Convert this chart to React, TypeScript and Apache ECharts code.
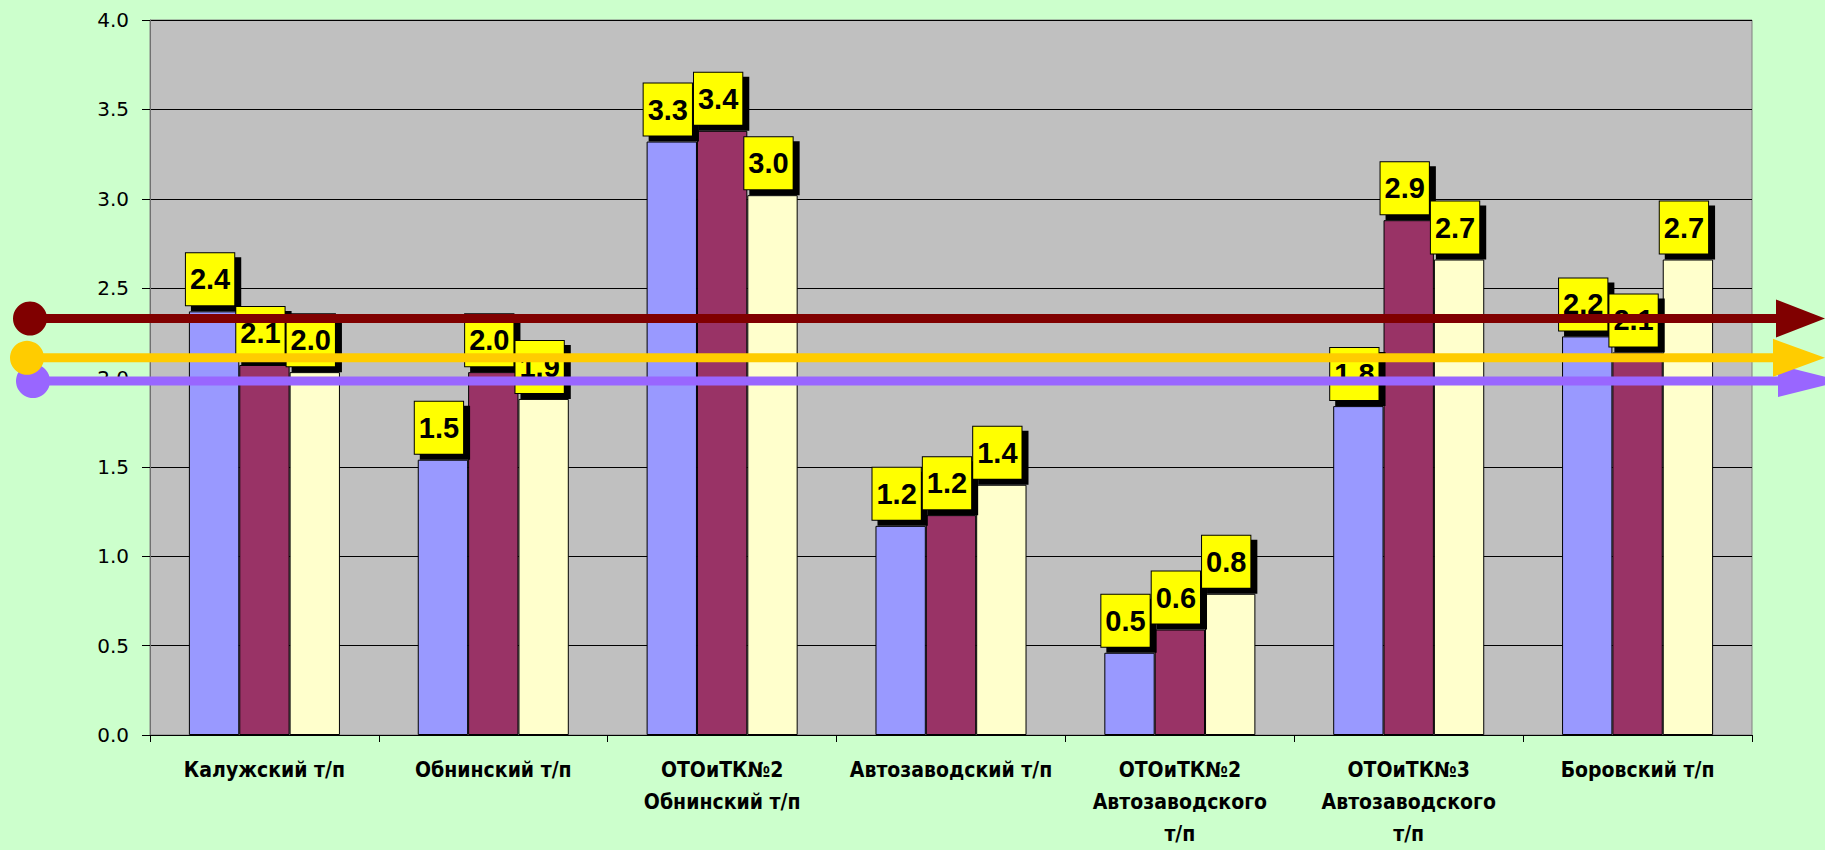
import React, { useEffect, useRef } from 'react';
import * as echarts from 'echarts';

const categories = [
  'Калужский т/п',
  'Обнинский т/п',
  'ОТОиТК№2\nОбнинский т/п',
  'Автозаводский т/п',
  'ОТОиТК№2\nАвтозаводского\nт/п',
  'ОТОиТК№3\nАвтозаводского\nт/п',
  'Боровский т/п',
];

const seriesA = [2.37, 1.54, 3.32, 1.17, 0.46, 1.84, 2.23];
const seriesB = [2.07, 2.03, 3.38, 1.23, 0.59, 2.88, 2.14];
const seriesC = [2.03, 1.88, 3.02, 1.4, 0.79, 2.66, 2.66];
const seriesList = [seriesA, seriesB, seriesC];
const barColors = ['#9999FF', '#993366', '#FFFFCC'];

const yMin = 0;
const yMax = 4;
const yInterval = 0.5;

// reference levels drawn as arrows across the chart: purple, yellow, maroon
const refValues = [1.98, 2.11, 2.33];
const refColors = ['#9966FF', '#FFCC00', '#800000'];
const refCircleX = [33, 27, 30];
const refArrowStart = [1778, 1773, 1776];
const refArrowTip = [1842, 1825, 1825];
const refArrowHalf = [16, 19, 19];

export default function App() {
  const ref = useRef<HTMLDivElement>(null);

  useEffect(() => {
    document.body.style.margin = '0';
    document.body.style.overflow = 'hidden';
    const chart = echarts.init(ref.current!, null, { renderer: 'svg' });
    const option: any = {
      animation: false,
      backgroundColor: '#CCFFCC',
      grid: {
        left: 150,
        right: 73,
        top: 20,
        bottom: 114,
        show: true,
        backgroundColor: '#C0C0C0',
        borderColor: '#808080',
        borderWidth: 1,
      },
      xAxis: {
        type: 'category',
        data: categories,
        axisLine: { show: true, lineStyle: { color: '#000', width: 1 } },
        axisTick: { show: true, length: 7, lineStyle: { color: '#000' } },
        axisLabel: {
          interval: 0,
          margin: 19,
          color: '#000',
          fontWeight: 'bold',
          fontSize: 21,
          lineHeight: 32,
          fontFamily: "'DejaVu Sans Condensed', 'Liberation Sans Narrow', 'Liberation Sans', sans-serif",
        },
        splitLine: { show: false },
      },
      yAxis: {
        type: 'value',
        min: yMin,
        max: yMax,
        interval: yInterval,
        axisLine: { show: true, lineStyle: { color: '#707070', width: 1 } },
        axisTick: { show: true, length: 8, lineStyle: { color: '#000' } },
        axisLabel: {
          margin: 21,
          color: '#000',
          fontSize: 20,
          fontFamily: "'DejaVu Sans', sans-serif",
          formatter: (v: number) => v.toFixed(1),
        },
        splitLine: { show: true, lineStyle: { color: '#000', width: 1 } },
      },
      series: seriesList.map((data, i) => ({
        type: 'bar',
        data,
        barGap: '0%',
        barCategoryGap: '34%',
        itemStyle: { color: barColors[i], borderColor: '#000', borderWidth: 1 },
        label: {
          show: true,
          position: 'top',
          distance: 6,
          offset: [-4, 0],
          formatter: (p: any) => Number(p.value).toFixed(1),
          color: '#000',
          fontWeight: 'bold',
          fontSize: 29,
          lineHeight: 30,
          fontFamily: "'Liberation Sans', Arial, sans-serif",
          backgroundColor: '#FFFF00',
          borderColor: '#000',
          borderWidth: 1,
          padding: [11, 4, 11, 4],
          shadowColor: '#000',
          shadowBlur: 0,
          shadowOffsetX: 6,
          shadowOffsetY: 5,
        },
      })),
    };
    chart.setOption(option);

    const graphics: any[] = [];
    refValues.forEach((v, i) => {
      const y = chart.convertToPixel({ yAxisIndex: 0 } as any, v) as number;
      graphics.push({
        type: 'line',
        z: 100,
        shape: { x1: refCircleX[i], y1: y, x2: refArrowStart[i] + 4, y2: y },
        style: { stroke: refColors[i], lineWidth: 9 },
      });
      graphics.push({
        type: 'circle',
        z: 101,
        shape: { cx: refCircleX[i], cy: y, r: 17 },
        style: { fill: refColors[i] },
      });
      graphics.push({
        type: 'polygon',
        z: 101,
        shape: {
          points: [
            [refArrowStart[i], y - refArrowHalf[i]],
            [refArrowTip[i], y],
            [refArrowStart[i], y + refArrowHalf[i]],
          ],
        },
        style: { fill: refColors[i] },
      });
    });
    chart.setOption({ graphic: graphics });

    return () => {
      chart.dispose();
    };
  }, []);

  return (
    <div
      ref={ref}
      style={{ position: 'absolute', left: 0, top: 0, width: 1825, height: 850 }}
    />
  );
}
